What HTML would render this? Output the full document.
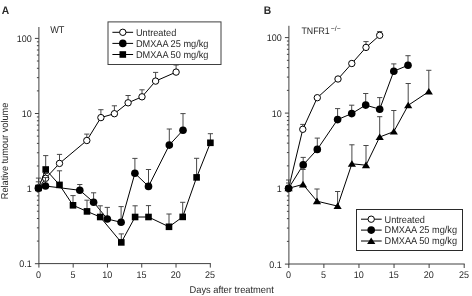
<!DOCTYPE html>
<html><head><meta charset="utf-8"><style>
html,body{margin:0;padding:0;background:#fff;}
body{width:472px;height:296px;overflow:hidden;}
svg{display:block;filter:blur(0.35px);}
.t{font-family:"Liberation Sans",sans-serif;font-size:9px;fill:#2a2a2a;text-rendering:geometricPrecision;}
.b{font-family:"Liberation Sans",sans-serif;font-size:10px;font-weight:bold;fill:#2a2a2a;text-rendering:geometricPrecision;}
</style></head><body>
<svg width="472" height="296" viewBox="0 0 472 296">
<line x1="38.9" y1="27" x2="38.9" y2="264.1" stroke="#404040" stroke-width="1"/>
<line x1="38.9" y1="263.6" x2="210.8" y2="263.6" stroke="#404040" stroke-width="1"/>
<line x1="34.9" y1="263.7" x2="38.9" y2="263.7" stroke="#404040" stroke-width="1"/>
<text transform="translate(31.7,267.3) scale(1,1.07)" text-anchor="end" class="t" style="font-size:9px">0.1</text>
<line x1="36.9" y1="241.09" x2="38.9" y2="241.09" stroke="#404040" stroke-width="1"/>
<line x1="36.9" y1="227.87" x2="38.9" y2="227.87" stroke="#404040" stroke-width="1"/>
<line x1="36.9" y1="218.49" x2="38.9" y2="218.49" stroke="#404040" stroke-width="1"/>
<line x1="36.9" y1="211.21" x2="38.9" y2="211.21" stroke="#404040" stroke-width="1"/>
<line x1="36.9" y1="205.26" x2="38.9" y2="205.26" stroke="#404040" stroke-width="1"/>
<line x1="36.9" y1="200.23" x2="38.9" y2="200.23" stroke="#404040" stroke-width="1"/>
<line x1="36.9" y1="195.88" x2="38.9" y2="195.88" stroke="#404040" stroke-width="1"/>
<line x1="36.9" y1="192.04" x2="38.9" y2="192.04" stroke="#404040" stroke-width="1"/>
<line x1="34.9" y1="188.6" x2="38.9" y2="188.6" stroke="#404040" stroke-width="1"/>
<text transform="translate(31.7,192.2) scale(1,1.07)" text-anchor="end" class="t" style="font-size:9px">1</text>
<line x1="36.9" y1="165.99" x2="38.9" y2="165.99" stroke="#404040" stroke-width="1"/>
<line x1="36.9" y1="152.77" x2="38.9" y2="152.77" stroke="#404040" stroke-width="1"/>
<line x1="36.9" y1="143.39" x2="38.9" y2="143.39" stroke="#404040" stroke-width="1"/>
<line x1="36.9" y1="136.11" x2="38.9" y2="136.11" stroke="#404040" stroke-width="1"/>
<line x1="36.9" y1="130.16" x2="38.9" y2="130.16" stroke="#404040" stroke-width="1"/>
<line x1="36.9" y1="125.13" x2="38.9" y2="125.13" stroke="#404040" stroke-width="1"/>
<line x1="36.9" y1="120.78" x2="38.9" y2="120.78" stroke="#404040" stroke-width="1"/>
<line x1="36.9" y1="116.94" x2="38.9" y2="116.94" stroke="#404040" stroke-width="1"/>
<line x1="34.9" y1="113.5" x2="38.9" y2="113.5" stroke="#404040" stroke-width="1"/>
<text transform="translate(31.7,117.1) scale(1,1.07)" text-anchor="end" class="t" style="font-size:9px">10</text>
<line x1="36.9" y1="90.89" x2="38.9" y2="90.89" stroke="#404040" stroke-width="1"/>
<line x1="36.9" y1="77.67" x2="38.9" y2="77.67" stroke="#404040" stroke-width="1"/>
<line x1="36.9" y1="68.29" x2="38.9" y2="68.29" stroke="#404040" stroke-width="1"/>
<line x1="36.9" y1="61.01" x2="38.9" y2="61.01" stroke="#404040" stroke-width="1"/>
<line x1="36.9" y1="55.06" x2="38.9" y2="55.06" stroke="#404040" stroke-width="1"/>
<line x1="36.9" y1="50.03" x2="38.9" y2="50.03" stroke="#404040" stroke-width="1"/>
<line x1="36.9" y1="45.68" x2="38.9" y2="45.68" stroke="#404040" stroke-width="1"/>
<line x1="36.9" y1="41.84" x2="38.9" y2="41.84" stroke="#404040" stroke-width="1"/>
<line x1="34.9" y1="38.4" x2="38.9" y2="38.4" stroke="#404040" stroke-width="1"/>
<text transform="translate(31.7,42) scale(1,1.07)" text-anchor="end" class="t" style="font-size:9px">100</text>
<line x1="38.9" y1="263.6" x2="38.9" y2="267.6" stroke="#404040" stroke-width="1"/>
<text transform="translate(38.6,277.7) scale(1,1.07)" text-anchor="middle" class="t" style="font-size:9px">0</text>
<line x1="73.18" y1="263.6" x2="73.18" y2="267.6" stroke="#404040" stroke-width="1"/>
<text transform="translate(72.88,277.7) scale(1,1.07)" text-anchor="middle" class="t" style="font-size:9px">5</text>
<line x1="107.46" y1="263.6" x2="107.46" y2="267.6" stroke="#404040" stroke-width="1"/>
<text transform="translate(107.16,277.7) scale(1,1.07)" text-anchor="middle" class="t" style="font-size:9px">10</text>
<line x1="141.74" y1="263.6" x2="141.74" y2="267.6" stroke="#404040" stroke-width="1"/>
<text transform="translate(141.44,277.7) scale(1,1.07)" text-anchor="middle" class="t" style="font-size:9px">15</text>
<line x1="176.02" y1="263.6" x2="176.02" y2="267.6" stroke="#404040" stroke-width="1"/>
<text transform="translate(175.72,277.7) scale(1,1.07)" text-anchor="middle" class="t" style="font-size:9px">20</text>
<line x1="210.3" y1="263.6" x2="210.3" y2="267.6" stroke="#404040" stroke-width="1"/>
<text transform="translate(210,277.7) scale(1,1.07)" text-anchor="middle" class="t" style="font-size:9px">25</text>
<line x1="288.9" y1="25.8" x2="288.9" y2="264.5" stroke="#404040" stroke-width="1"/>
<line x1="288.9" y1="264" x2="464.7" y2="264" stroke="#404040" stroke-width="1"/>
<line x1="284.9" y1="264.1" x2="288.9" y2="264.1" stroke="#404040" stroke-width="1"/>
<text transform="translate(281.7,267.7) scale(1,1.07)" text-anchor="end" class="t" style="font-size:9px">0.1</text>
<line x1="286.9" y1="241.37" x2="288.9" y2="241.37" stroke="#404040" stroke-width="1"/>
<line x1="286.9" y1="228.08" x2="288.9" y2="228.08" stroke="#404040" stroke-width="1"/>
<line x1="286.9" y1="218.64" x2="288.9" y2="218.64" stroke="#404040" stroke-width="1"/>
<line x1="286.9" y1="211.33" x2="288.9" y2="211.33" stroke="#404040" stroke-width="1"/>
<line x1="286.9" y1="205.35" x2="288.9" y2="205.35" stroke="#404040" stroke-width="1"/>
<line x1="286.9" y1="200.3" x2="288.9" y2="200.3" stroke="#404040" stroke-width="1"/>
<line x1="286.9" y1="195.92" x2="288.9" y2="195.92" stroke="#404040" stroke-width="1"/>
<line x1="286.9" y1="192.05" x2="288.9" y2="192.05" stroke="#404040" stroke-width="1"/>
<line x1="284.9" y1="188.6" x2="288.9" y2="188.6" stroke="#404040" stroke-width="1"/>
<text transform="translate(281.7,192.2) scale(1,1.07)" text-anchor="end" class="t" style="font-size:9px">1</text>
<line x1="286.9" y1="165.87" x2="288.9" y2="165.87" stroke="#404040" stroke-width="1"/>
<line x1="286.9" y1="152.58" x2="288.9" y2="152.58" stroke="#404040" stroke-width="1"/>
<line x1="286.9" y1="143.14" x2="288.9" y2="143.14" stroke="#404040" stroke-width="1"/>
<line x1="286.9" y1="135.83" x2="288.9" y2="135.83" stroke="#404040" stroke-width="1"/>
<line x1="286.9" y1="129.85" x2="288.9" y2="129.85" stroke="#404040" stroke-width="1"/>
<line x1="286.9" y1="124.8" x2="288.9" y2="124.8" stroke="#404040" stroke-width="1"/>
<line x1="286.9" y1="120.42" x2="288.9" y2="120.42" stroke="#404040" stroke-width="1"/>
<line x1="286.9" y1="116.55" x2="288.9" y2="116.55" stroke="#404040" stroke-width="1"/>
<line x1="284.9" y1="113.1" x2="288.9" y2="113.1" stroke="#404040" stroke-width="1"/>
<text transform="translate(281.7,116.7) scale(1,1.07)" text-anchor="end" class="t" style="font-size:9px">10</text>
<line x1="286.9" y1="90.37" x2="288.9" y2="90.37" stroke="#404040" stroke-width="1"/>
<line x1="286.9" y1="77.08" x2="288.9" y2="77.08" stroke="#404040" stroke-width="1"/>
<line x1="286.9" y1="67.64" x2="288.9" y2="67.64" stroke="#404040" stroke-width="1"/>
<line x1="286.9" y1="60.33" x2="288.9" y2="60.33" stroke="#404040" stroke-width="1"/>
<line x1="286.9" y1="54.35" x2="288.9" y2="54.35" stroke="#404040" stroke-width="1"/>
<line x1="286.9" y1="49.3" x2="288.9" y2="49.3" stroke="#404040" stroke-width="1"/>
<line x1="286.9" y1="44.92" x2="288.9" y2="44.92" stroke="#404040" stroke-width="1"/>
<line x1="286.9" y1="41.05" x2="288.9" y2="41.05" stroke="#404040" stroke-width="1"/>
<line x1="284.9" y1="37.6" x2="288.9" y2="37.6" stroke="#404040" stroke-width="1"/>
<text transform="translate(281.7,41.2) scale(1,1.07)" text-anchor="end" class="t" style="font-size:9px">100</text>
<line x1="288.8" y1="264" x2="288.8" y2="268" stroke="#404040" stroke-width="1"/>
<text transform="translate(288.5,277.7) scale(1,1.07)" text-anchor="middle" class="t" style="font-size:9px">0</text>
<line x1="323.88" y1="264" x2="323.88" y2="268" stroke="#404040" stroke-width="1"/>
<text transform="translate(323.58,277.7) scale(1,1.07)" text-anchor="middle" class="t" style="font-size:9px">5</text>
<line x1="358.96" y1="264" x2="358.96" y2="268" stroke="#404040" stroke-width="1"/>
<text transform="translate(358.66,277.7) scale(1,1.07)" text-anchor="middle" class="t" style="font-size:9px">10</text>
<line x1="394.04" y1="264" x2="394.04" y2="268" stroke="#404040" stroke-width="1"/>
<text transform="translate(393.74,277.7) scale(1,1.07)" text-anchor="middle" class="t" style="font-size:9px">15</text>
<line x1="429.12" y1="264" x2="429.12" y2="268" stroke="#404040" stroke-width="1"/>
<text transform="translate(428.82,277.7) scale(1,1.07)" text-anchor="middle" class="t" style="font-size:9px">20</text>
<line x1="464.2" y1="264" x2="464.2" y2="268" stroke="#404040" stroke-width="1"/>
<text transform="translate(463.9,277.7) scale(1,1.07)" text-anchor="middle" class="t" style="font-size:9px">25</text>
<line x1="45.6" y1="178.3" x2="45.6" y2="173.5" stroke="#484848" stroke-width="1"/>
<line x1="43" y1="173.5" x2="48.2" y2="173.5" stroke="#484848" stroke-width="1"/>
<line x1="59.5" y1="163.4" x2="59.5" y2="154.4" stroke="#484848" stroke-width="1"/>
<line x1="56.9" y1="154.4" x2="62.1" y2="154.4" stroke="#484848" stroke-width="1"/>
<line x1="86.8" y1="140.5" x2="86.8" y2="134.1" stroke="#484848" stroke-width="1"/>
<line x1="84.2" y1="134.1" x2="89.4" y2="134.1" stroke="#484848" stroke-width="1"/>
<line x1="100.9" y1="117.6" x2="100.9" y2="109.7" stroke="#484848" stroke-width="1"/>
<line x1="98.3" y1="109.7" x2="103.5" y2="109.7" stroke="#484848" stroke-width="1"/>
<line x1="114.4" y1="113.7" x2="114.4" y2="105.8" stroke="#484848" stroke-width="1"/>
<line x1="111.8" y1="105.8" x2="117" y2="105.8" stroke="#484848" stroke-width="1"/>
<line x1="128.1" y1="102.8" x2="128.1" y2="95.5" stroke="#484848" stroke-width="1"/>
<line x1="125.5" y1="95.5" x2="130.7" y2="95.5" stroke="#484848" stroke-width="1"/>
<line x1="142" y1="96.8" x2="142" y2="89.8" stroke="#484848" stroke-width="1"/>
<line x1="139.4" y1="89.8" x2="144.6" y2="89.8" stroke="#484848" stroke-width="1"/>
<line x1="155.6" y1="81.1" x2="155.6" y2="72.4" stroke="#484848" stroke-width="1"/>
<line x1="153" y1="72.4" x2="158.2" y2="72.4" stroke="#484848" stroke-width="1"/>
<line x1="176.1" y1="72.1" x2="176.1" y2="65" stroke="#484848" stroke-width="1"/>
<line x1="173.5" y1="65" x2="178.7" y2="65" stroke="#484848" stroke-width="1"/>
<path d="M38.5 188.4 L45.6 178.3 L59.5 163.4 L86.8 140.5 L100.9 117.6 L114.4 113.7 L128.1 102.8 L142 96.8 L155.6 81.1 L176.1 72.1" fill="none" stroke="#000" stroke-width="1"/>
<circle cx="38.5" cy="188.4" r="3.2" fill="#fff" stroke="#000" stroke-width="1"/>
<circle cx="45.6" cy="178.3" r="3.2" fill="#fff" stroke="#000" stroke-width="1"/>
<circle cx="59.5" cy="163.4" r="3.2" fill="#fff" stroke="#000" stroke-width="1"/>
<circle cx="86.8" cy="140.5" r="3.2" fill="#fff" stroke="#000" stroke-width="1"/>
<circle cx="100.9" cy="117.6" r="3.2" fill="#fff" stroke="#000" stroke-width="1"/>
<circle cx="114.4" cy="113.7" r="3.2" fill="#fff" stroke="#000" stroke-width="1"/>
<circle cx="128.1" cy="102.8" r="3.2" fill="#fff" stroke="#000" stroke-width="1"/>
<circle cx="142" cy="96.8" r="3.2" fill="#fff" stroke="#000" stroke-width="1"/>
<circle cx="155.6" cy="81.1" r="3.2" fill="#fff" stroke="#000" stroke-width="1"/>
<circle cx="176.1" cy="72.1" r="3.2" fill="#fff" stroke="#000" stroke-width="1"/>
<line x1="38.4" y1="188" x2="38.4" y2="181.8" stroke="#484848" stroke-width="1"/>
<line x1="35.8" y1="181.8" x2="41" y2="181.8" stroke="#484848" stroke-width="1"/>
<line x1="45.5" y1="186" x2="45.5" y2="177.6" stroke="#484848" stroke-width="1"/>
<line x1="42.9" y1="177.6" x2="48.1" y2="177.6" stroke="#484848" stroke-width="1"/>
<line x1="79.8" y1="190.3" x2="79.8" y2="184.5" stroke="#484848" stroke-width="1"/>
<line x1="77.2" y1="184.5" x2="82.4" y2="184.5" stroke="#484848" stroke-width="1"/>
<line x1="93.6" y1="202.2" x2="93.6" y2="192.8" stroke="#484848" stroke-width="1"/>
<line x1="91" y1="192.8" x2="96.2" y2="192.8" stroke="#484848" stroke-width="1"/>
<line x1="107.3" y1="219" x2="107.3" y2="207.4" stroke="#484848" stroke-width="1"/>
<line x1="104.7" y1="207.4" x2="109.9" y2="207.4" stroke="#484848" stroke-width="1"/>
<line x1="121.1" y1="222.3" x2="121.1" y2="206.6" stroke="#484848" stroke-width="1"/>
<line x1="118.5" y1="206.6" x2="123.7" y2="206.6" stroke="#484848" stroke-width="1"/>
<line x1="134.9" y1="173.3" x2="134.9" y2="158.4" stroke="#484848" stroke-width="1"/>
<line x1="132.3" y1="158.4" x2="137.5" y2="158.4" stroke="#484848" stroke-width="1"/>
<line x1="148.5" y1="186.4" x2="148.5" y2="169.5" stroke="#484848" stroke-width="1"/>
<line x1="145.9" y1="169.5" x2="151.1" y2="169.5" stroke="#484848" stroke-width="1"/>
<line x1="169.3" y1="145.1" x2="169.3" y2="129" stroke="#484848" stroke-width="1"/>
<line x1="166.7" y1="129" x2="171.9" y2="129" stroke="#484848" stroke-width="1"/>
<line x1="183" y1="130.2" x2="183" y2="113.6" stroke="#484848" stroke-width="1"/>
<line x1="180.4" y1="113.6" x2="185.6" y2="113.6" stroke="#484848" stroke-width="1"/>
<path d="M38.4 188 L45.5 186 L79.8 190.3 L93.6 202.2 L107.3 219 L121.1 222.3 L134.9 173.3 L148.5 186.4 L169.3 145.1 L183 130.2" fill="none" stroke="#000" stroke-width="1"/>
<circle cx="38.4" cy="188" r="3.8" fill="#000"/>
<circle cx="45.5" cy="186" r="3.8" fill="#000"/>
<circle cx="79.8" cy="190.3" r="3.8" fill="#000"/>
<circle cx="93.6" cy="202.2" r="3.8" fill="#000"/>
<circle cx="107.3" cy="219" r="3.8" fill="#000"/>
<circle cx="121.1" cy="222.3" r="3.8" fill="#000"/>
<circle cx="134.9" cy="173.3" r="3.8" fill="#000"/>
<circle cx="148.5" cy="186.4" r="3.8" fill="#000"/>
<circle cx="169.3" cy="145.1" r="3.8" fill="#000"/>
<circle cx="183" cy="130.2" r="3.8" fill="#000"/>
<line x1="38.5" y1="188" x2="38.5" y2="178.1" stroke="#484848" stroke-width="1"/>
<line x1="35.9" y1="178.1" x2="41.1" y2="178.1" stroke="#484848" stroke-width="1"/>
<line x1="45.7" y1="169.5" x2="45.7" y2="155.6" stroke="#484848" stroke-width="1"/>
<line x1="43.1" y1="155.6" x2="48.3" y2="155.6" stroke="#484848" stroke-width="1"/>
<line x1="59.5" y1="184.9" x2="59.5" y2="170.8" stroke="#484848" stroke-width="1"/>
<line x1="56.9" y1="170.8" x2="62.1" y2="170.8" stroke="#484848" stroke-width="1"/>
<line x1="73" y1="205.3" x2="73" y2="195.6" stroke="#484848" stroke-width="1"/>
<line x1="70.4" y1="195.6" x2="75.6" y2="195.6" stroke="#484848" stroke-width="1"/>
<line x1="87" y1="211.4" x2="87" y2="200.2" stroke="#484848" stroke-width="1"/>
<line x1="84.4" y1="200.2" x2="89.6" y2="200.2" stroke="#484848" stroke-width="1"/>
<line x1="100.2" y1="217" x2="100.2" y2="205.8" stroke="#484848" stroke-width="1"/>
<line x1="97.6" y1="205.8" x2="102.8" y2="205.8" stroke="#484848" stroke-width="1"/>
<line x1="121.3" y1="242.4" x2="121.3" y2="233.9" stroke="#484848" stroke-width="1"/>
<line x1="118.7" y1="233.9" x2="123.9" y2="233.9" stroke="#484848" stroke-width="1"/>
<line x1="135.1" y1="217" x2="135.1" y2="205.8" stroke="#484848" stroke-width="1"/>
<line x1="132.5" y1="205.8" x2="137.7" y2="205.8" stroke="#484848" stroke-width="1"/>
<line x1="148.5" y1="217" x2="148.5" y2="205.6" stroke="#484848" stroke-width="1"/>
<line x1="145.9" y1="205.6" x2="151.1" y2="205.6" stroke="#484848" stroke-width="1"/>
<line x1="169" y1="226.8" x2="169" y2="214" stroke="#484848" stroke-width="1"/>
<line x1="166.4" y1="214" x2="171.6" y2="214" stroke="#484848" stroke-width="1"/>
<line x1="182.7" y1="216.9" x2="182.7" y2="202.3" stroke="#484848" stroke-width="1"/>
<line x1="180.1" y1="202.3" x2="185.3" y2="202.3" stroke="#484848" stroke-width="1"/>
<line x1="196.6" y1="177.4" x2="196.6" y2="158.3" stroke="#484848" stroke-width="1"/>
<line x1="194" y1="158.3" x2="199.2" y2="158.3" stroke="#484848" stroke-width="1"/>
<line x1="210.4" y1="142.8" x2="210.4" y2="133.7" stroke="#484848" stroke-width="1"/>
<line x1="207.8" y1="133.7" x2="213" y2="133.7" stroke="#484848" stroke-width="1"/>
<path d="M38.5 188 L45.7 169.5 L59.5 184.9 L73 205.3 L87 211.4 L100.2 217 L121.3 242.4 L135.1 217 L148.5 217 L169 226.8 L182.7 216.9 L196.6 177.4 L210.4 142.8" fill="none" stroke="#000" stroke-width="1"/>
<rect x="35.2" y="184.7" width="6.6" height="6.6" fill="#000"/>
<rect x="42.4" y="166.2" width="6.6" height="6.6" fill="#000"/>
<rect x="56.2" y="181.6" width="6.6" height="6.6" fill="#000"/>
<rect x="69.7" y="202" width="6.6" height="6.6" fill="#000"/>
<rect x="83.7" y="208.1" width="6.6" height="6.6" fill="#000"/>
<rect x="96.9" y="213.7" width="6.6" height="6.6" fill="#000"/>
<rect x="118" y="239.1" width="6.6" height="6.6" fill="#000"/>
<rect x="131.8" y="213.7" width="6.6" height="6.6" fill="#000"/>
<rect x="145.2" y="213.7" width="6.6" height="6.6" fill="#000"/>
<rect x="165.7" y="223.5" width="6.6" height="6.6" fill="#000"/>
<rect x="179.4" y="213.6" width="6.6" height="6.6" fill="#000"/>
<rect x="193.3" y="174.1" width="6.6" height="6.6" fill="#000"/>
<rect x="207.1" y="139.5" width="6.6" height="6.6" fill="#000"/>
<line x1="302.8" y1="129.3" x2="302.8" y2="124.4" stroke="#484848" stroke-width="1"/>
<line x1="300.2" y1="124.4" x2="305.4" y2="124.4" stroke="#484848" stroke-width="1"/>
<line x1="366" y1="47.4" x2="366" y2="41.6" stroke="#484848" stroke-width="1"/>
<line x1="363.4" y1="41.6" x2="368.6" y2="41.6" stroke="#484848" stroke-width="1"/>
<line x1="379.7" y1="35.3" x2="379.7" y2="31.6" stroke="#484848" stroke-width="1"/>
<line x1="377.1" y1="31.6" x2="382.3" y2="31.6" stroke="#484848" stroke-width="1"/>
<path d="M288.6 188.4 L302.8 129.3 L317.3 97.7 L338 79 L351.8 63.5 L366 47.4 L379.7 35.3" fill="none" stroke="#000" stroke-width="1"/>
<circle cx="288.6" cy="188.4" r="3.2" fill="#fff" stroke="#000" stroke-width="1"/>
<circle cx="302.8" cy="129.3" r="3.2" fill="#fff" stroke="#000" stroke-width="1"/>
<circle cx="317.3" cy="97.7" r="3.2" fill="#fff" stroke="#000" stroke-width="1"/>
<circle cx="338" cy="79" r="3.2" fill="#fff" stroke="#000" stroke-width="1"/>
<circle cx="351.8" cy="63.5" r="3.2" fill="#fff" stroke="#000" stroke-width="1"/>
<circle cx="366" cy="47.4" r="3.2" fill="#fff" stroke="#000" stroke-width="1"/>
<circle cx="379.7" cy="35.3" r="3.2" fill="#fff" stroke="#000" stroke-width="1"/>
<line x1="288.6" y1="188.3" x2="288.6" y2="180" stroke="#484848" stroke-width="1"/>
<line x1="286" y1="180" x2="291.2" y2="180" stroke="#484848" stroke-width="1"/>
<line x1="303.2" y1="164.9" x2="303.2" y2="157.4" stroke="#484848" stroke-width="1"/>
<line x1="300.6" y1="157.4" x2="305.8" y2="157.4" stroke="#484848" stroke-width="1"/>
<line x1="317.3" y1="149.4" x2="317.3" y2="138.1" stroke="#484848" stroke-width="1"/>
<line x1="314.7" y1="138.1" x2="319.9" y2="138.1" stroke="#484848" stroke-width="1"/>
<line x1="337.6" y1="119.6" x2="337.6" y2="108.6" stroke="#484848" stroke-width="1"/>
<line x1="335" y1="108.6" x2="340.2" y2="108.6" stroke="#484848" stroke-width="1"/>
<line x1="351.7" y1="113.6" x2="351.7" y2="105.2" stroke="#484848" stroke-width="1"/>
<line x1="349.1" y1="105.2" x2="354.3" y2="105.2" stroke="#484848" stroke-width="1"/>
<line x1="365.7" y1="105.1" x2="365.7" y2="93.5" stroke="#484848" stroke-width="1"/>
<line x1="363.1" y1="93.5" x2="368.3" y2="93.5" stroke="#484848" stroke-width="1"/>
<line x1="379.7" y1="109.2" x2="379.7" y2="97.6" stroke="#484848" stroke-width="1"/>
<line x1="377.1" y1="97.6" x2="382.3" y2="97.6" stroke="#484848" stroke-width="1"/>
<line x1="393.8" y1="71.2" x2="393.8" y2="63.9" stroke="#484848" stroke-width="1"/>
<line x1="391.2" y1="63.9" x2="396.4" y2="63.9" stroke="#484848" stroke-width="1"/>
<line x1="408" y1="65.3" x2="408" y2="55.7" stroke="#484848" stroke-width="1"/>
<line x1="405.4" y1="55.7" x2="410.6" y2="55.7" stroke="#484848" stroke-width="1"/>
<path d="M288.6 188.3 L303.2 164.9 L317.3 149.4 L337.6 119.6 L351.7 113.6 L365.7 105.1 L379.7 109.2 L393.8 71.2 L408 65.3" fill="none" stroke="#000" stroke-width="1"/>
<circle cx="288.6" cy="188.3" r="3.8" fill="#000"/>
<circle cx="303.2" cy="164.9" r="3.8" fill="#000"/>
<circle cx="317.3" cy="149.4" r="3.8" fill="#000"/>
<circle cx="337.6" cy="119.6" r="3.8" fill="#000"/>
<circle cx="351.7" cy="113.6" r="3.8" fill="#000"/>
<circle cx="365.7" cy="105.1" r="3.8" fill="#000"/>
<circle cx="379.7" cy="109.2" r="3.8" fill="#000"/>
<circle cx="393.8" cy="71.2" r="3.8" fill="#000"/>
<circle cx="408" cy="65.3" r="3.8" fill="#000"/>
<line x1="288.6" y1="188.3" x2="288.6" y2="183" stroke="#484848" stroke-width="1"/>
<line x1="286" y1="183" x2="291.2" y2="183" stroke="#484848" stroke-width="1"/>
<line x1="303" y1="184.4" x2="303" y2="169.5" stroke="#484848" stroke-width="1"/>
<line x1="300.4" y1="169.5" x2="305.6" y2="169.5" stroke="#484848" stroke-width="1"/>
<line x1="317" y1="201.2" x2="317" y2="189" stroke="#484848" stroke-width="1"/>
<line x1="314.4" y1="189" x2="319.6" y2="189" stroke="#484848" stroke-width="1"/>
<line x1="337.6" y1="206.1" x2="337.6" y2="191.5" stroke="#484848" stroke-width="1"/>
<line x1="335" y1="191.5" x2="340.2" y2="191.5" stroke="#484848" stroke-width="1"/>
<line x1="351.9" y1="163.8" x2="351.9" y2="144.8" stroke="#484848" stroke-width="1"/>
<line x1="349.3" y1="144.8" x2="354.5" y2="144.8" stroke="#484848" stroke-width="1"/>
<line x1="366" y1="165.2" x2="366" y2="145.5" stroke="#484848" stroke-width="1"/>
<line x1="363.4" y1="145.5" x2="368.6" y2="145.5" stroke="#484848" stroke-width="1"/>
<line x1="379.7" y1="137" x2="379.7" y2="116.7" stroke="#484848" stroke-width="1"/>
<line x1="377.1" y1="116.7" x2="382.3" y2="116.7" stroke="#484848" stroke-width="1"/>
<line x1="393.8" y1="131.6" x2="393.8" y2="110.5" stroke="#484848" stroke-width="1"/>
<line x1="391.2" y1="110.5" x2="396.4" y2="110.5" stroke="#484848" stroke-width="1"/>
<line x1="408.2" y1="105.3" x2="408.2" y2="83.5" stroke="#484848" stroke-width="1"/>
<line x1="405.6" y1="83.5" x2="410.8" y2="83.5" stroke="#484848" stroke-width="1"/>
<line x1="428.8" y1="91.6" x2="428.8" y2="70.3" stroke="#484848" stroke-width="1"/>
<line x1="426.2" y1="70.3" x2="431.4" y2="70.3" stroke="#484848" stroke-width="1"/>
<path d="M288.6 188.3 L303 184.4 L317 201.2 L337.6 206.1 L351.9 163.8 L366 165.2 L379.7 137 L393.8 131.6 L408.2 105.3 L428.8 91.6" fill="none" stroke="#000" stroke-width="1"/>
<path d="M288.6 184.7 L292.7 191.3 L284.5 191.3 Z" fill="#000"/>
<path d="M303 180.8 L307.1 187.4 L298.9 187.4 Z" fill="#000"/>
<path d="M317 197.6 L321.1 204.2 L312.9 204.2 Z" fill="#000"/>
<path d="M337.6 202.5 L341.7 209.1 L333.5 209.1 Z" fill="#000"/>
<path d="M351.9 160.2 L356 166.8 L347.8 166.8 Z" fill="#000"/>
<path d="M366 161.6 L370.1 168.2 L361.9 168.2 Z" fill="#000"/>
<path d="M379.7 133.4 L383.8 140 L375.6 140 Z" fill="#000"/>
<path d="M393.8 128 L397.9 134.6 L389.7 134.6 Z" fill="#000"/>
<path d="M408.2 101.7 L412.3 108.3 L404.1 108.3 Z" fill="#000"/>
<path d="M428.8 88 L432.9 94.6 L424.7 94.6 Z" fill="#000"/>
<rect x="108" y="21.9" width="113" height="42.6" fill="#fff" stroke="#404040" stroke-width="1"/>
<line x1="112.4" y1="32.3" x2="133.1" y2="32.3" stroke="#000" stroke-width="1"/>
<circle cx="122.8" cy="32.3" r="3.2" fill="#fff" stroke="#000" stroke-width="1"/>
<text transform="translate(135.9,35.6) scale(1,1.07)" class="t" style="font-size:9.2px">Untreated</text>
<line x1="112.4" y1="43.4" x2="133.1" y2="43.4" stroke="#000" stroke-width="1"/>
<circle cx="122.8" cy="43.4" r="3.8" fill="#000"/>
<text transform="translate(135.9,46.7) scale(1,1.07)" class="t" style="font-size:9.2px">DMXAA 25 mg/kg</text>
<line x1="112.4" y1="54.5" x2="133.1" y2="54.5" stroke="#000" stroke-width="1"/>
<rect x="119.5" y="51.2" width="6.6" height="6.6" fill="#000"/>
<text transform="translate(135.9,57.8) scale(1,1.07)" class="t" style="font-size:9.2px">DMXAA 50 mg/kg</text>
<rect x="356.5" y="209.5" width="106" height="41" fill="#fff" stroke="#2a2a2a" stroke-width="1"/>
<line x1="361" y1="219.2" x2="381.7" y2="219.2" stroke="#000" stroke-width="1"/>
<circle cx="371.2" cy="219.2" r="3.2" fill="#fff" stroke="#000" stroke-width="1"/>
<text transform="translate(384.5,222.5) scale(1,1.07)" class="t" style="font-size:9.2px">Untreated</text>
<line x1="361" y1="230.1" x2="381.7" y2="230.1" stroke="#000" stroke-width="1"/>
<circle cx="371.2" cy="230.1" r="3.8" fill="#000"/>
<text transform="translate(384.5,233.4) scale(1,1.07)" class="t" style="font-size:9.2px">DMXAA 25 mg/kg</text>
<line x1="361" y1="241" x2="381.7" y2="241" stroke="#000" stroke-width="1"/>
<path d="M371.2 237.4 L375.3 244 L367.1 244 Z" fill="#000"/>
<text transform="translate(384.5,244.3) scale(1,1.07)" class="t" style="font-size:9.2px">DMXAA 50 mg/kg</text>
<text transform="translate(1.8,13.8) scale(1,1.07)" class="b" style="font-size:10.3px">A</text>
<text transform="translate(263.8,13.6) scale(1,1.07)" class="b" style="font-size:10.3px">B</text>
<text transform="translate(50.2,33.2) scale(1,1.07)" class="t" style="font-size:9.2px">WT</text>
<text transform="translate(301.4,34.2) scale(1,1.07)" class="t" style="font-size:8.8px">TNFR1<tspan dx="1.1" dy="-3.2" font-size="6.8">−/−</tspan></text>
<text transform="translate(189.5,292.8) scale(1,1.07)" class="t" style="font-size:9.3px">Days after treatment</text>
<text transform="translate(8.3,199.2) rotate(-90) scale(1,1.07)" class="t" style="font-size:9.2px">Relative tumour volume</text>
</svg>
</body></html>
